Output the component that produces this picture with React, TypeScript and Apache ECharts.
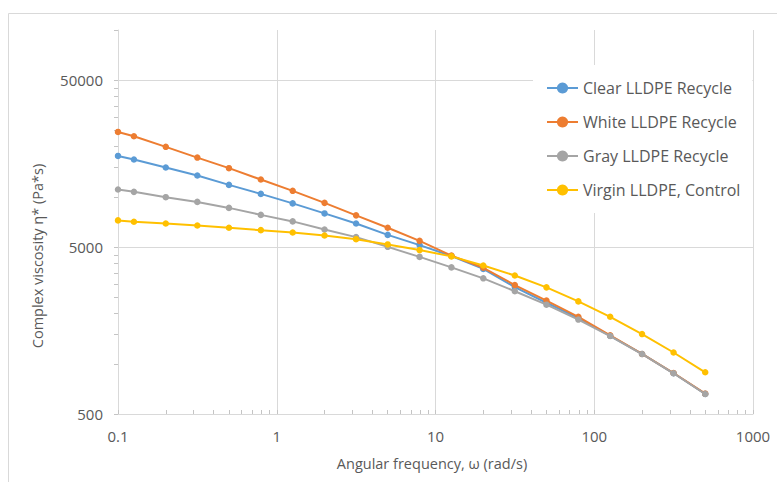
import React, { useEffect, useRef } from "react";
import * as echarts from "echarts";

// Angular frequency (rad/s)
const freq = [0.1, 0.126, 0.2, 0.316, 0.5, 0.794, 1.26, 2, 3.16, 5, 7.94, 12.6, 20, 31.6, 50, 79.4, 126, 200, 316, 500];

// Complex viscosity (Pa*s)
const clearLLDPE = [17600, 16750, 15000, 13430, 11800, 10420, 9140, 7960, 6930, 5920, 5140, 4420, 3700, 2880, 2320, 1880, 1470, 1145, 877, 660];
const whiteLLDPE = [24500, 23100, 19950, 17200, 14860, 12700, 10870, 9210, 7750, 6530, 5450, 4450, 3760, 2960, 2390, 1910, 1480, 1145, 880, 662];
const grayLLDPE = [11080, 10720, 9960, 9330, 8590, 7800, 7130, 6380, 5740, 5020, 4370, 3780, 3250, 2720, 2260, 1840, 1466, 1144, 877, 659];
const virginLLDPE = [7230, 7090, 6930, 6740, 6530, 6320, 6120, 5870, 5580, 5190, 4800, 4400, 3880, 3380, 2870, 2365, 1912, 1506, 1168, 889];

const seriesNames = ["Clear LLDPE Recycle", "White LLDPE Recycle", "Gray LLDPE Recycle", "Virgin LLDPE, Control"];
const seriesColors = ["#5B9BD5", "#ED7D31", "#A5A5A5", "#FFC000"];

// Axis ticks / labels
const yLabelValues = [500, 5000, 50000];
const yMinorTicks = [
  500, 1000, 1500, 2000, 2500, 3000, 3500, 4000, 4500, 5000,
  10000, 15000, 20000, 25000, 30000, 35000, 40000, 45000, 50000, 100000,
];
const xMinorTicks = [
  0.1, 0.2, 0.3, 0.4, 0.5, 0.6, 0.7, 0.8, 0.9,
  1, 2, 3, 4, 5, 6, 7, 8, 9,
  10, 20, 30, 40, 50, 60, 70, 80, 90,
  100, 200, 300, 400, 500, 600, 700, 800, 900, 1000,
];

const xTitle = "Angular frequency, ω (rad/s)";
const yTitle = "Complex viscosity η* (Pa*s)";

const FONT = "'Open Sans', 'Noto Sans', sans-serif";
const TEXT = "#595959";
const GRID = "#d9d9d9";
const TICK = "#c4c4c4";

export default function App() {
  const ref = useRef<HTMLDivElement>(null);

  useEffect(() => {
    if (!ref.current) return;
    const chart = echarts.init(ref.current, undefined, { renderer: "svg" });
    const allData = [clearLLDPE, whiteLLDPE, grayLLDPE, virginLLDPE];

    chart.setOption({
      animation: false,
      backgroundColor: "#ffffff",
      textStyle: { fontFamily: FONT },
      grid: { left: 118, right: 24, top: 30, bottom: 68, containLabel: false },
      legend: {
        orient: "vertical",
        left: 533,
        top: 65,
        padding: [15, 12, 15, 13],
        backgroundColor: "#ffffff",
        itemWidth: 31,
        itemHeight: 14,
        itemGap: 18,
        textStyle: { color: TEXT, fontSize: 16, fontFamily: FONT },
        data: seriesNames,
      },
      xAxis: [
        {
          type: "log",
          logBase: 10,
          min: 0.1,
          max: 1000,
          axisLine: { show: true, lineStyle: { color: GRID, width: 1 } },
          axisTick: { show: false },
          axisLabel: {
            color: TEXT,
            fontSize: 15,
            margin: 14,
            fontFamily: FONT,
            formatter: (v: number) => String(v),
          },
          splitLine: { show: true, lineStyle: { color: GRID, width: 1 } },
        },
        {
          type: "log",
          logBase: 10,
          min: 0.1,
          max: 1000,
          position: "bottom",
          axisLine: { show: false },
          axisLabel: { show: false },
          splitLine: { show: false },
          axisTick: {
            show: true,
            inside: true,
            length: 4,
            customValues: xMinorTicks,
            lineStyle: { color: TICK },
          },
        },
      ],
      yAxis: [
        {
          type: "log",
          logBase: 10,
          min: 500,
          max: 100000,
          axisLine: { show: true, lineStyle: { color: GRID, width: 1 } },
          axisTick: { show: false, customValues: yLabelValues },
          axisLabel: {
            color: TEXT,
            fontSize: 15,
            margin: 15,
            fontFamily: FONT,
            customValues: yLabelValues,
            formatter: (v: number) => String(v),
          },
          splitLine: { show: true, lineStyle: { color: GRID, width: 1 } },
        },
        {
          type: "log",
          logBase: 10,
          min: 500,
          max: 100000,
          position: "left",
          axisLine: { show: false },
          axisLabel: { show: false },
          splitLine: { show: false },
          axisTick: {
            show: true,
            inside: false,
            length: 4,
            customValues: yMinorTicks,
            lineStyle: { color: TICK },
          },
        },
      ],
      graphic: [
        {
          type: "rect",
          silent: true,
          z: -10,
          shape: { x: 8.5, y: 13.5, width: 900, height: 600 },
          style: { fill: "none", stroke: GRID, lineWidth: 1 },
        },
        {
          type: "text",
          x: 37,
          y: 256,
          rotation: Math.PI / 2,
          style: {
            text: yTitle,
            fill: TEXT,
            font: `14.5px ${FONT}`,
            align: "center",
            verticalAlign: "middle",
          },
        },
        {
          type: "text",
          x: 432,
          y: 463,
          style: {
            text: xTitle,
            fill: TEXT,
            font: `14.5px ${FONT}`,
            align: "center",
            verticalAlign: "middle",
          },
        },
      ],
      series: seriesNames.map((name, i) => ({
        name,
        type: "line",
        xAxisIndex: 0,
        yAxisIndex: 0,
        data: freq.map((f, j) => [f, allData[i][j]]),
        symbol: "circle",
        symbolSize: 6.5,
        showSymbol: true,
        lineStyle: { color: seriesColors[i], width: 2 },
        itemStyle: { color: seriesColors[i] },
        color: seriesColors[i],
        z: 2 + i,
      })),
    });

    return () => chart.dispose();
  }, []);

  return (
    <div
      ref={ref}
      style={{ position: "fixed", left: 0, top: 0, width: 777, height: 482 }}
    />
  );
}
